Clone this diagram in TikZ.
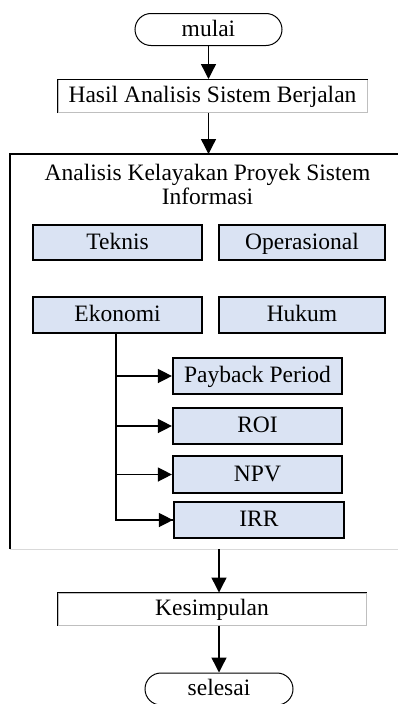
\documentclass[tikz,border=0pt]{standalone}
\usepackage{fontspec}
\setmainfont{Liberation Serif}
\usetikzlibrary{arrows.meta}
\definecolor{boxblue}{HTML}{DAE3F3}
\tikzset{
  txt/.style={font=\fontsize{23.5}{24}\selectfont, inner sep=0pt},
  fixh/.style={text height=16pt, text depth=2.5pt},
  term/.style={txt, fixh, draw, line width=1pt, rounded corners=16pt, minimum height=32pt},
  plainbox/.style={txt, fixh, draw=black!25, line width=1pt, minimum height=33pt},
  bluebox/.style={txt, fixh, draw=black, fill=boxblue, line width=2.2pt, minimum height=36pt},
  arr/.style={line width=1.4pt, -{Triangle[length=15pt,width=15pt]}},
  barr/.style={line width=1.4pt, -{Triangle[length=14pt,width=14pt]}}
}
\begin{document}
\begin{tikzpicture}[x=1pt,y=-1pt]
\useasboundingbox (0,0) rectangle (398,704);
\node[term, minimum width=147pt] (mulai) at (208.5,29.5) {mulai};
\node[plainbox, minimum width=309pt] (hasil) at (212.5,96) {Hasil Analisis Sistem Berjalan};
\draw[line width=1pt] (hasil.south west) -- (hasil.north west) -- (hasil.north east);
\draw[arr] (mulai.south) -- (mulai.south |- hasil.north);
% big frame
\coordinate (bigtop) at (208.5,154);
\coordinate (bigbot) at (219,549);
\draw[line width=1.4pt] (410,154) -- (10,154) -- (10,549);
\draw[line width=1pt, black!15] (10,549) -- (410,549);
\draw[arr] (hasil.south -| mulai) -- (bigtop);
\node[txt, align=center] (judul) at (207.5,184) {Analisis Kelayakan Proyek Sistem\\Informasi};
\node[bluebox, minimum width=169pt, minimum height=35pt] (teknis) at (117.5,242.5) {Teknis};
\node[bluebox, minimum width=166pt, minimum height=35pt] (ops) at (302,242.5) {Operasional};
\node[bluebox, minimum width=169pt] (eko) at (117.5,315) {Ekonomi};
\node[bluebox, minimum width=166pt] (hukum) at (302,315) {Hukum};
\node[bluebox, minimum width=169pt] (pp) at (257.5,376) {Payback Period};
\node[bluebox, minimum width=169pt] (roi) at (257.5,426) {ROI};
\node[bluebox, minimum width=169pt, minimum height=37pt] (npv) at (257.5,474.5) {NPV};
\node[bluebox, minimum width=170pt] (irr) at (259,520) {IRR};
\coordinate (trunk) at (116,333);
\draw[line width=1.4pt] (trunk) -- (trunk |- irr.west) -- (irr.west);
\draw[barr] (trunk |- pp.west) -- (pp.west);
\draw[barr] (trunk |- roi.west) -- (roi.west);
\draw[barr] (trunk |- npv.west) -- (npv.west);
\draw[barr] (trunk |- irr.west) -- (irr.west);
% bottom
\node[plainbox, minimum width=308pt, minimum height=32pt] (kes) at (212,609) {Kesimpulan};
\draw[line width=1pt] (kes.south west) -- (kes.north west) -- (kes.north east);
\draw[arr] (bigbot) -- (bigbot |- kes.north);
\node[term, minimum width=148pt] (selesai) at (219,689) {selesai};
\draw[arr] (kes.south -| selesai) -- (selesai.north);
\end{tikzpicture}
\end{document}
